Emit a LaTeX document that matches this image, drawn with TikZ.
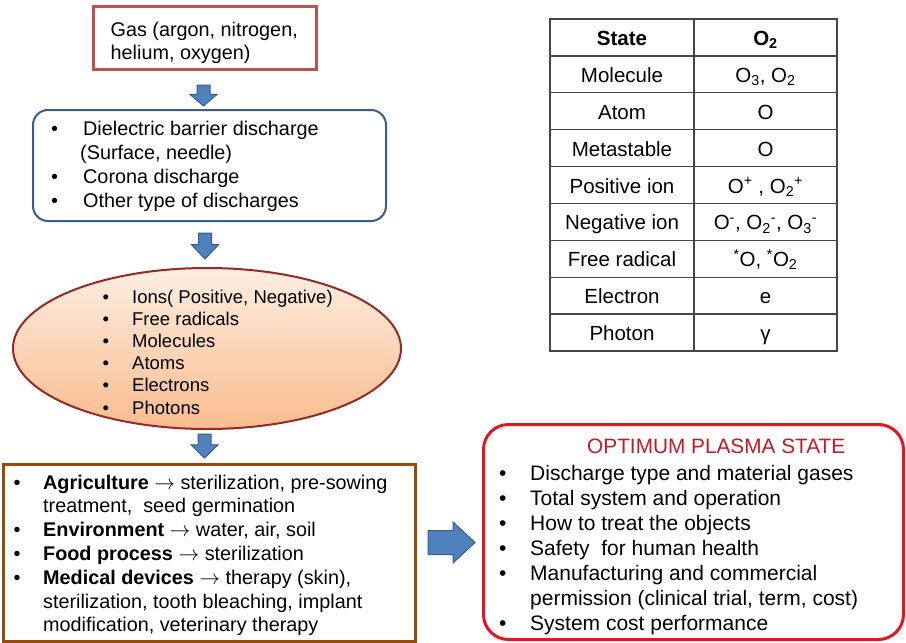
\documentclass[tikz,border=0pt]{standalone}
\usepackage{fontspec}
\setmainfont{Liberation Sans}
\usetikzlibrary{calc,shapes.geometric}

\definecolor{gasred}{RGB}{192,80,77}
\definecolor{arrowfill}{RGB}{79,129,189}
\definecolor{arrowline}{RGB}{56,93,138}
\definecolor{discblue}{RGB}{58,95,140}
\definecolor{ellline}{RGB}{150,40,40}
\definecolor{elltop}{RGB}{253,238,226}
\definecolor{ellbot}{RGB}{249,188,142}
\definecolor{appbrown}{RGB}{150,75,12}
\definecolor{optred}{RGB}{226,22,32}
\definecolor{titlered}{RGB}{196,26,36}
\definecolor{gridgray}{RGB}{70,70,70}

% bullet column of a given width, and an empty column of the same width
\newcommand{\bulletcol}[1]{\makebox[#1][l]{\textbullet}}
\newcommand{\emptycol}[1]{\hspace*{#1}}
% thin arrow between a field and its uses
\newcommand{\usearrow}{\ensuremath{\rightarrow}}

% block arrows: centre x, top end, length
\newcommand{\blockdown}[3]{%
  \draw[blockarrow] (#1-6.5,#2) -- (#1+6.5,#2) -- (#1+6.5,#2+#3*0.45)
    -- (#1+13.5,#2+#3*0.45) -- (#1,#2+#3) -- (#1-13.5,#2+#3*0.45)
    -- (#1-6.5,#2+#3*0.45) -- cycle;}

\begin{document}
\begin{tikzpicture}[x=1pt,y=-1pt,
  blockarrow/.style={fill=arrowfill,draw=arrowline,line width=1pt,line join=miter},
  txt/.style={anchor=base west,inner sep=0pt,text=black},
  cell/.style={anchor=base,inner sep=0pt,text=black,font=\fontsize{20.5}{24}\selectfont},
  gridline/.style={draw=gridgray,line width=1.3pt}]

\useasboundingbox (0,0) rectangle (906,643);
\fill[white] (0,0) rectangle (906,643);

% ---- flow on the left ----
\node[draw=gasred,line width=3pt,minimum width=223pt,minimum height=63pt,inner sep=0pt] (gas) at (205,38) {};
\node[txt,font=\fontsize{19.8}{23}\selectfont] (gastext) at (110.5,36)
  {\begin{tabular}[t]{@{}l@{}}Gas (argon, nitrogen,\\helium, oxygen)\end{tabular}};

\node[draw=discblue,line width=2pt,rounded corners=15pt,minimum width=353pt,minimum height=111pt,inner sep=0pt] (disc) at (209.5,165.5) {};
\node[txt,font=\fontsize{19.8}{24}\selectfont] (disctext) at (51,135)
  {\begin{tabular}[t]{@{}l@{}l@{}}
   \bulletcol{32pt} & Dielectric barrier discharge\\
   \emptycol{32pt} & \hspace*{-3pt}(Surface, needle)\\
   \bulletcol{32pt} & Corona discharge\\
   \bulletcol{32pt} & Other type of discharges
   \end{tabular}};

\node[ellipse,draw=ellline,line width=2pt,top color=elltop,bottom color=ellbot,minimum width=388pt,minimum height=161pt,inner sep=0pt] (species) at (207,348.5) {};
\node[txt,font=\fontsize{18.5}{22.2}\selectfont] (speciestext) at (102.5,303)
  {\begin{tabular}[t]{@{}l@{}l@{}}
   \bulletcol{29.5pt} & Ions( Positive, Negative)\\
   \bulletcol{29.5pt} & Free radicals\\
   \bulletcol{29.5pt} & Molecules\\
   \bulletcol{29.5pt} & Atoms\\
   \bulletcol{29.5pt} & Electrons\\
   \bulletcol{29.5pt} & Photons
   \end{tabular}};

\node[draw=appbrown,line width=3pt,minimum width=412pt,minimum height=177pt,inner sep=0pt] (apps) at (209.5,553) {};
\node[txt,font=\fontsize{19.8}{23.8}\selectfont] (appstext) at (13.5,489)
  {\begin{tabular}[t]{@{}l@{}l@{}}
   \bulletcol{29.5pt} & \textbf{Agriculture} \usearrow{} sterilization, pre-sowing\\
   \emptycol{29.5pt} & treatment,\ \ seed germination\\
   \bulletcol{29.5pt} & \textbf{Environment} \usearrow{} water, air, soil\\
   \bulletcol{29.5pt} & \textbf{Food process} \usearrow{} sterilization\\
   \bulletcol{29.5pt} & \textbf{Medical devices} \usearrow{} therapy (skin),\\
   \emptycol{29.5pt} & sterilization, tooth bleaching, implant\\
   \emptycol{29.5pt} & modification, veterinary therapy
   \end{tabular}};

% ---- optimum state box ----
\node[draw=optred,line width=3pt,rounded corners=25pt,minimum width=420pt,minimum height=215pt,inner sep=0pt] (optimum) at (693.5,532) {};
\node[txt,text=titlered,font=\fontsize{20.8}{25}\selectfont] (opttitle) at (587,453) {OPTIMUM PLASMA STATE};
\node[txt,font=\fontsize{21}{25}\selectfont] (opttext) at (499,480)
  {\begin{tabular}[t]{@{}l@{}l@{}}
   \bulletcol{31pt} & Discharge type and material gases\\
   \bulletcol{31pt} & Total system and operation\\
   \bulletcol{31pt} & How to treat the objects\\
   \bulletcol{31pt} & Safety\ \ for human health\\
   \bulletcol{31pt} & Manufacturing and commercial\\
   \emptycol{31pt} & permission (clinical trial, term, cost)\\
   \bulletcol{31pt} & System cost performance
   \end{tabular}};

% ---- block arrows ----
\blockdown{203.5}{85}{21}
\blockdown{205}{233}{26}
\blockdown{204.5}{434}{24}
\draw[blockarrow] (428,530.5) -- (453,530.5) -- (453,522) -- (475,542.5)
  -- (453,563) -- (453,554.5) -- (428,554.5) -- cycle;

% ---- O2 species table ----
\draw[gridline] (550,19) rectangle (837,351);
\foreach \k in {1,...,8} \draw[gridline] (550,19+36.889*\k) -- (837,19+36.889*\k);
\draw[gridline] (694,19) -- (694,351);

\node[cell] (s1) at (622,45.5) {\textbf{State}};
\node[cell] (o1) at (765.5,45.5) {\textbf{O\textsubscript{2}}};
\node[cell] (s2) at (622,82.4) {Molecule};
\node[cell] (o2) at (765.5,82.4) {O\textsubscript{3}, O\textsubscript{2}};
\node[cell] (s3) at (622,119.3) {Atom};
\node[cell] (o3) at (765.5,119.3) {O};
\node[cell] (s4) at (622,156.2) {Metastable};
\node[cell] (o4) at (765.5,156.2) {O};
\node[cell] (s5) at (622,193.1) {Positive ion};
\node[cell] (o5) at (765.5,193.1) {O\textsuperscript{+} , O\textsubscript{2}\textsuperscript{+}};
\node[cell] (s6) at (622,229.9) {Negative ion};
\node[cell] (o6) at (765.5,229.9) {O\textsuperscript{-}, O\textsubscript{2}\textsuperscript{-}, O\textsubscript{3}\textsuperscript{-}};
\node[cell] (s7) at (622,266.8) {Free radical};
\node[cell] (o7) at (765.5,266.8) {\textsuperscript{*}O, \textsuperscript{*}O\textsubscript{2}};
\node[cell] (s8) at (622,303.7) {Electron};
\node[cell] (o8) at (765.5,303.7) {e};
\node[cell] (s9) at (622,340.6) {Photon};
\node[cell] (o9) at (765.5,340.6) {γ};
\end{tikzpicture}
\end{document}
